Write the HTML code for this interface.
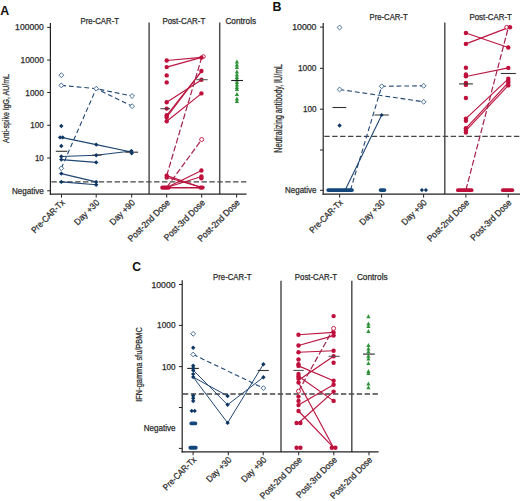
<!DOCTYPE html>
<html><head><meta charset="utf-8"><style>
html,body{margin:0;padding:0;background:#fff;}
svg{display:block;font-family:"Liberation Sans", sans-serif;}
</style></head><body>
<svg width="520" height="501" viewBox="0 0 520 501">
<rect width="520" height="501" fill="#fff"/>
<g>
<text x="0.2" y="14.6" font-size="12.4" text-anchor="start" fill="#111" font-weight="bold">A</text>
<text x="8.5" y="108.5" font-size="9.6" text-anchor="middle" fill="#2b2b2b" font-weight="normal" stroke="#2b2b2b" stroke-width="0.25" textLength="69" lengthAdjust="spacingAndGlyphs" transform="rotate(-90 8.5 108.5)">Anti-spike IgG, AU/mL</text>
<line x1="51.4" y1="181.9" x2="246.5" y2="181.9" stroke="#444444" stroke-width="1.3" stroke-dasharray="5.4 2.5" opacity="1"/>
<line x1="149.1" y1="22.5" x2="149.1" y2="194" stroke="#505050" stroke-width="1.5" opacity="1"/>
<line x1="219.7" y1="22.5" x2="219.7" y2="194" stroke="#505050" stroke-width="1.5" opacity="1"/>
<line x1="50.4" y1="23" x2="50.4" y2="194.7" stroke="#222222" stroke-width="1.2" opacity="1"/>
<line x1="49.8" y1="194.2" x2="246.5" y2="194.2" stroke="#222222" stroke-width="1.2" opacity="1"/>
<text x="43.8" y="30.4" font-size="8.6" text-anchor="end" fill="#2b2b2b" font-weight="normal" stroke="#2b2b2b" stroke-width="0.25" textLength="28.7" lengthAdjust="spacingAndGlyphs">100000</text>
<line x1="47.199999999999996" y1="27.4" x2="50.4" y2="27.4" stroke="#222222" stroke-width="1.0" opacity="1"/>
<text x="43.8" y="63.1" font-size="8.6" text-anchor="end" fill="#2b2b2b" font-weight="normal" stroke="#2b2b2b" stroke-width="0.25" textLength="23.3" lengthAdjust="spacingAndGlyphs">10000</text>
<line x1="47.199999999999996" y1="60.1" x2="50.4" y2="60.1" stroke="#222222" stroke-width="1.0" opacity="1"/>
<text x="43.8" y="95.5" font-size="8.6" text-anchor="end" fill="#2b2b2b" font-weight="normal" stroke="#2b2b2b" stroke-width="0.25" textLength="18.5" lengthAdjust="spacingAndGlyphs">1000</text>
<line x1="47.199999999999996" y1="92.5" x2="50.4" y2="92.5" stroke="#222222" stroke-width="1.0" opacity="1"/>
<text x="43.8" y="128.3" font-size="8.6" text-anchor="end" fill="#2b2b2b" font-weight="normal" stroke="#2b2b2b" stroke-width="0.25" textLength="13.6" lengthAdjust="spacingAndGlyphs">100</text>
<line x1="47.199999999999996" y1="125.3" x2="50.4" y2="125.3" stroke="#222222" stroke-width="1.0" opacity="1"/>
<text x="43.8" y="161.0" font-size="8.6" text-anchor="end" fill="#2b2b2b" font-weight="normal" stroke="#2b2b2b" stroke-width="0.25" textLength="8.9" lengthAdjust="spacingAndGlyphs">10</text>
<line x1="47.199999999999996" y1="158" x2="50.4" y2="158" stroke="#222222" stroke-width="1.0" opacity="1"/>
<text x="43.8" y="193.8" font-size="8.6" text-anchor="end" fill="#2b2b2b" font-weight="normal" stroke="#2b2b2b" stroke-width="0.25" textLength="31.8" lengthAdjust="spacingAndGlyphs">Negative</text>
<line x1="47.199999999999996" y1="190.8" x2="50.4" y2="190.8" stroke="#222222" stroke-width="1.0" opacity="1"/>
<text x="99.8" y="24.2" font-size="8.6" text-anchor="middle" fill="#2b2b2b" font-weight="normal" stroke="#2b2b2b" stroke-width="0.25" textLength="38.4" lengthAdjust="spacingAndGlyphs">Pre-CAR-T</text>
<text x="183.85" y="24.2" font-size="8.6" text-anchor="middle" fill="#2b2b2b" font-weight="normal" stroke="#2b2b2b" stroke-width="0.25" textLength="42.9" lengthAdjust="spacingAndGlyphs">Post-CAR-T</text>
<text x="240.75" y="24.2" font-size="8.6" text-anchor="middle" fill="#2b2b2b" font-weight="normal" stroke="#2b2b2b" stroke-width="0.25" textLength="30.7" lengthAdjust="spacingAndGlyphs">Controls</text>
<line x1="61.5" y1="194.2" x2="61.5" y2="197.6" stroke="#222222" stroke-width="1.0" opacity="1"/>
<text x="65.3" y="203.3" font-size="9.0" text-anchor="end" fill="#2b2b2b" font-weight="normal" stroke="#2b2b2b" stroke-width="0.25" textLength="43.0" lengthAdjust="spacingAndGlyphs" transform="rotate(-45 65.3 203.3)">Pre-CAR-Tx</text>
<line x1="96.2" y1="194.2" x2="96.2" y2="197.6" stroke="#222222" stroke-width="1.0" opacity="1"/>
<text x="100.0" y="203.3" font-size="9.0" text-anchor="end" fill="#2b2b2b" font-weight="normal" stroke="#2b2b2b" stroke-width="0.25" textLength="31.6" lengthAdjust="spacingAndGlyphs" transform="rotate(-45 100.0 203.3)">Day +30</text>
<line x1="131.7" y1="194.2" x2="131.7" y2="197.6" stroke="#222222" stroke-width="1.0" opacity="1"/>
<text x="135.5" y="203.3" font-size="9.0" text-anchor="end" fill="#2b2b2b" font-weight="normal" stroke="#2b2b2b" stroke-width="0.25" textLength="31.6" lengthAdjust="spacingAndGlyphs" transform="rotate(-45 135.5 203.3)">Day +90</text>
<line x1="166.7" y1="194.2" x2="166.7" y2="197.6" stroke="#222222" stroke-width="1.0" opacity="1"/>
<text x="170.5" y="203.3" font-size="9.0" text-anchor="end" fill="#2b2b2b" font-weight="normal" stroke="#2b2b2b" stroke-width="0.25" textLength="55.2" lengthAdjust="spacingAndGlyphs" transform="rotate(-45 170.5 203.3)">Post-2nd Dose</text>
<line x1="201.7" y1="194.2" x2="201.7" y2="197.6" stroke="#222222" stroke-width="1.0" opacity="1"/>
<text x="205.5" y="203.3" font-size="9.0" text-anchor="end" fill="#2b2b2b" font-weight="normal" stroke="#2b2b2b" stroke-width="0.25" textLength="53.6" lengthAdjust="spacingAndGlyphs" transform="rotate(-45 205.5 203.3)">Post-3rd Dose</text>
<line x1="236.6" y1="194.2" x2="236.6" y2="197.6" stroke="#222222" stroke-width="1.0" opacity="1"/>
<text x="240.4" y="203.3" font-size="9.0" text-anchor="end" fill="#2b2b2b" font-weight="normal" stroke="#2b2b2b" stroke-width="0.25" textLength="55.2" lengthAdjust="spacingAndGlyphs" transform="rotate(-45 240.4 203.3)">Post-2nd Dose</text>
<polyline points="61.3,85.4 96.2,88.7 132.1,96" fill="none" stroke="#1f4673" stroke-width="1.1" stroke-dasharray="4.8 2.9"/>
<polyline points="61.3,168.3 96.2,88.7 132.1,106.2" fill="none" stroke="#1f4673" stroke-width="1.1" stroke-dasharray="4.8 2.9"/>
<polyline points="61.3,137.4 96.2,144.6 131.5,152" fill="none" stroke="#1f4673" stroke-width="1.1"/>
<polyline points="61.3,156.5 96.2,155.2 131.5,151" fill="none" stroke="#1f4673" stroke-width="1.1"/>
<polyline points="61.3,159.6 96.2,162.4" fill="none" stroke="#1f4673" stroke-width="1.1"/>
<polyline points="61.3,173.6 96.2,181.9" fill="none" stroke="#1f4673" stroke-width="1.1"/>
<polyline points="61.3,181.9 96.2,184.8" fill="none" stroke="#1f4673" stroke-width="1.1"/>
<line x1="55.8" y1="151.3" x2="67.3" y2="151.3" stroke="#333" stroke-width="1.1" opacity="1"/>
<line x1="91.9" y1="155.1" x2="101.7" y2="155.1" stroke="#333" stroke-width="1.1" opacity="1"/>
<line x1="125.4" y1="152.2" x2="138.1" y2="152.2" stroke="#333" stroke-width="1.1" opacity="1"/>
<path d="M61.3,72.8L63.699999999999996,75.2L61.3,77.60000000000001L58.9,75.2Z" fill="#fff" stroke="#2f5d8c" stroke-width="0.9"/>
<path d="M61.3,83.0L63.699999999999996,85.4L61.3,87.80000000000001L58.9,85.4Z" fill="#fff" stroke="#2f5d8c" stroke-width="0.9"/>
<path d="M61.3,165.9L63.699999999999996,168.3L61.3,170.70000000000002L58.9,168.3Z" fill="#fff" stroke="#2f5d8c" stroke-width="0.9"/>
<path d="M96.2,86.3L98.60000000000001,88.7L96.2,91.10000000000001L93.8,88.7Z" fill="#fff" stroke="#2f5d8c" stroke-width="0.9"/>
<path d="M132.1,93.6L134.5,96L132.1,98.4L129.7,96Z" fill="#fff" stroke="#2f5d8c" stroke-width="0.9"/>
<path d="M132.1,103.8L134.5,106.2L132.1,108.60000000000001L129.7,106.2Z" fill="#fff" stroke="#2f5d8c" stroke-width="0.9"/>
<path d="M61.3,123.8L63.5,126L61.3,128.2L59.099999999999994,126Z" fill="#0f3763"/>
<path d="M60.1,135.20000000000002L62.300000000000004,137.4L60.1,139.6L57.9,137.4Z" fill="#0f3763"/>
<path d="M62.7,135.20000000000002L64.9,137.4L62.7,139.6L60.5,137.4Z" fill="#0f3763"/>
<path d="M61.3,143.8L63.5,146L61.3,148.2L59.099999999999994,146Z" fill="#0f3763"/>
<path d="M61.3,154.3L63.5,156.5L61.3,158.7L59.099999999999994,156.5Z" fill="#0f3763"/>
<path d="M61.3,157.4L63.5,159.6L61.3,161.79999999999998L59.099999999999994,159.6Z" fill="#0f3763"/>
<path d="M61.3,171.4L63.5,173.6L61.3,175.79999999999998L59.099999999999994,173.6Z" fill="#0f3763"/>
<path d="M61.3,179.70000000000002L63.5,181.9L61.3,184.1L59.099999999999994,181.9Z" fill="#0f3763"/>
<path d="M96.2,142.4L98.4,144.6L96.2,146.79999999999998L94.0,144.6Z" fill="#0f3763"/>
<path d="M96.2,153.0L98.4,155.2L96.2,157.39999999999998L94.0,155.2Z" fill="#0f3763"/>
<path d="M96.2,160.20000000000002L98.4,162.4L96.2,164.6L94.0,162.4Z" fill="#0f3763"/>
<path d="M96.2,179.70000000000002L98.4,181.9L96.2,184.1L94.0,181.9Z" fill="#0f3763"/>
<path d="M96.2,182.60000000000002L98.4,184.8L96.2,187.0L94.0,184.8Z" fill="#0f3763"/>
<path d="M131.5,148.8L133.7,151L131.5,153.2L129.3,151Z" fill="#0f3763"/>
<path d="M131.7,151.10000000000002L133.89999999999998,153.3L131.7,155.5L129.5,153.3Z" fill="#0f3763"/>
<line x1="166.7" y1="60.5" x2="201.7" y2="57.4" stroke="#bb1540" stroke-width="1.15" opacity="1"/>
<line x1="166.7" y1="67.1" x2="201.7" y2="57.4" stroke="#bb1540" stroke-width="1.15" opacity="1"/>
<line x1="166.7" y1="102.2" x2="201.7" y2="79.7" stroke="#bb1540" stroke-width="1.15" opacity="1"/>
<line x1="166.7" y1="115.3" x2="201.7" y2="71" stroke="#bb1540" stroke-width="1.15" opacity="1"/>
<line x1="166.7" y1="117.2" x2="201.7" y2="71" stroke="#bb1540" stroke-width="1.15" opacity="1"/>
<line x1="166.7" y1="121.3" x2="201.7" y2="93.4" stroke="#bb1540" stroke-width="1.15" opacity="1"/>
<line x1="166.7" y1="187.5" x2="201.7" y2="170.5" stroke="#bb1540" stroke-width="1.15" opacity="1"/>
<line x1="166.7" y1="187.5" x2="201.7" y2="176.5" stroke="#bb1540" stroke-width="1.15" opacity="1"/>
<line x1="166.7" y1="175.6" x2="201.7" y2="187.5" stroke="#bb1540" stroke-width="1.15" opacity="1"/>
<line x1="166.7" y1="177.3" x2="201.7" y2="187.5" stroke="#bb1540" stroke-width="1.15" opacity="1"/>
<line x1="166.7" y1="187.5" x2="201.7" y2="187.5" stroke="#bb1540" stroke-width="1.15" opacity="1"/>
<line x1="166.7" y1="188" x2="201.7" y2="188" stroke="#bb1540" stroke-width="1.15" opacity="1"/>
<line x1="166.7" y1="175.6" x2="201.7" y2="57.4" stroke="#a3204a" stroke-width="1.2" stroke-dasharray="6 2.4" opacity="1"/>
<line x1="166.7" y1="187.5" x2="201.7" y2="139.5" stroke="#a3204a" stroke-width="1.2" stroke-dasharray="6 2.4" opacity="1"/>
<line x1="162.3" y1="187.7" x2="168.5" y2="187.7" stroke="#bf0f3b" stroke-width="4.2" stroke-linecap="round"/>
<line x1="200.4" y1="187.6" x2="202.6" y2="187.6" stroke="#bf0f3b" stroke-width="4.2" stroke-linecap="round"/>
<circle cx="166.7" cy="60.5" r="2.2" fill="#bf0f3b"/>
<circle cx="166.7" cy="67.1" r="2.2" fill="#bf0f3b"/>
<circle cx="166.7" cy="75.4" r="2.2" fill="#bf0f3b"/>
<circle cx="166.7" cy="82.4" r="2.2" fill="#bf0f3b"/>
<circle cx="166.7" cy="102.2" r="2.2" fill="#bf0f3b"/>
<circle cx="166.7" cy="108.6" r="2.2" fill="#bf0f3b"/>
<circle cx="166.7" cy="115.3" r="2.2" fill="#bf0f3b"/>
<circle cx="166.7" cy="117.2" r="2.2" fill="#bf0f3b"/>
<circle cx="166.7" cy="121.3" r="2.2" fill="#bf0f3b"/>
<circle cx="166.7" cy="175.6" r="2.2" fill="#bf0f3b"/>
<circle cx="166.7" cy="177.6" r="2.2" fill="#bf0f3b"/>
<circle cx="203.4" cy="56.6" r="1.9" fill="#fff" stroke="#bf0f3b" stroke-width="0.9"/>
<circle cx="201.39999999999998" cy="57.6" r="2.2" fill="#bf0f3b"/>
<circle cx="201.39999999999998" cy="71" r="2.2" fill="#bf0f3b"/>
<circle cx="201.39999999999998" cy="79.7" r="2.2" fill="#bf0f3b"/>
<circle cx="201.39999999999998" cy="93.4" r="2.2" fill="#bf0f3b"/>
<circle cx="201.39999999999998" cy="170.5" r="2.2" fill="#bf0f3b"/>
<circle cx="201.39999999999998" cy="176.5" r="2.2" fill="#bf0f3b"/>
<circle cx="201.39999999999998" cy="178.2" r="2.2" fill="#bf0f3b"/>
<circle cx="201.7" cy="139.5" r="2.0" fill="#fff" stroke="#bf0f3b" stroke-width="0.9"/>
<line x1="160.4" y1="108.7" x2="170" y2="108.7" stroke="#444" stroke-width="1.1" opacity="1"/>
<line x1="196.3" y1="79.7" x2="207.7" y2="79.7" stroke="#555" stroke-width="1.1" opacity="1"/>
<path d="M236.9,59.4L239.0,63.39L234.8,63.39Z" fill="#2e9236"/>
<path d="M236.9,62.4L239.0,66.39L234.8,66.39Z" fill="#2e9236"/>
<path d="M236.9,64.9L239.0,68.89L234.8,68.89Z" fill="#2e9236"/>
<path d="M236.9,69.4L239.0,73.39L234.8,73.39Z" fill="#2e9236"/>
<path d="M236.9,72.4L239.0,76.39L234.8,76.39Z" fill="#2e9236"/>
<path d="M236.9,74.9L239.0,78.89L234.8,78.89Z" fill="#2e9236"/>
<path d="M236.9,77.4L239.0,81.39L234.8,81.39Z" fill="#2e9236"/>
<path d="M236.9,79.9L239.0,83.89L234.8,83.89Z" fill="#2e9236"/>
<path d="M236.9,82.4L239.0,86.39L234.8,86.39Z" fill="#2e9236"/>
<path d="M236.9,84.9L239.0,88.89L234.8,88.89Z" fill="#2e9236"/>
<path d="M236.9,86.9L239.0,90.89L234.8,90.89Z" fill="#2e9236"/>
<path d="M236.9,91.9L239.0,95.89L234.8,95.89Z" fill="#2e9236"/>
<path d="M236.9,96.4L239.0,100.39L234.8,100.39Z" fill="#2e9236"/>
<path d="M236.9,98.9L239.0,102.89L234.8,102.89Z" fill="#2e9236"/>
<line x1="231.2" y1="80.5" x2="243" y2="80.5" stroke="#222" stroke-width="1.1" opacity="1"/>
</g>
<g>
<text x="272.4" y="11.1" font-size="12.4" text-anchor="start" fill="#111" font-weight="bold">B</text>
<text x="282.0" y="108.3" font-size="10.2" text-anchor="middle" fill="#2b2b2b" font-weight="normal" stroke="#2b2b2b" stroke-width="0.25" textLength="88.7" lengthAdjust="spacingAndGlyphs" transform="rotate(-90 282.0 108.3)">Neutralizing antibody, IU/mL</text>
<line x1="324.3" y1="136.3" x2="520" y2="136.3" stroke="#444444" stroke-width="1.3" stroke-dasharray="5.4 2.5" opacity="1"/>
<line x1="444.8" y1="22.6" x2="444.8" y2="194" stroke="#505050" stroke-width="1.5" opacity="1"/>
<line x1="323.2" y1="23" x2="323.2" y2="194.8" stroke="#222222" stroke-width="1.2" opacity="1"/>
<line x1="322.6" y1="194.2" x2="520" y2="194.2" stroke="#222222" stroke-width="1.2" opacity="1"/>
<text x="316.5" y="30.1" font-size="8.6" text-anchor="end" fill="#2b2b2b" font-weight="normal" stroke="#2b2b2b" stroke-width="0.25" textLength="24.3" lengthAdjust="spacingAndGlyphs">10000</text>
<line x1="320.0" y1="27.1" x2="323.2" y2="27.1" stroke="#222222" stroke-width="1.0" opacity="1"/>
<text x="316.5" y="71.3" font-size="8.6" text-anchor="end" fill="#2b2b2b" font-weight="normal" stroke="#2b2b2b" stroke-width="0.25" textLength="18.5" lengthAdjust="spacingAndGlyphs">1000</text>
<line x1="320.0" y1="68.3" x2="323.2" y2="68.3" stroke="#222222" stroke-width="1.0" opacity="1"/>
<text x="316.5" y="112.2" font-size="8.6" text-anchor="end" fill="#2b2b2b" font-weight="normal" stroke="#2b2b2b" stroke-width="0.25" textLength="13.6" lengthAdjust="spacingAndGlyphs">100</text>
<line x1="320.0" y1="109.2" x2="323.2" y2="109.2" stroke="#222222" stroke-width="1.0" opacity="1"/>
<text x="316.5" y="193.3" font-size="8.6" text-anchor="end" fill="#2b2b2b" font-weight="normal" stroke="#2b2b2b" stroke-width="0.25" textLength="31.4" lengthAdjust="spacingAndGlyphs">Negative</text>
<line x1="320.0" y1="190.3" x2="323.2" y2="190.3" stroke="#222222" stroke-width="1.0" opacity="1"/>
<line x1="320" y1="150" x2="323.2" y2="150" stroke="#222222" stroke-width="1.0" opacity="1"/>
<text x="388.6" y="20.4" font-size="8.6" text-anchor="middle" fill="#2b2b2b" font-weight="normal" stroke="#2b2b2b" stroke-width="0.25" textLength="38.1" lengthAdjust="spacingAndGlyphs">Pre-CAR-T</text>
<text x="490.7" y="20.2" font-size="8.6" text-anchor="middle" fill="#2b2b2b" font-weight="normal" stroke="#2b2b2b" stroke-width="0.25" textLength="42.5" lengthAdjust="spacingAndGlyphs">Post-CAR-T</text>
<line x1="339.6" y1="194.2" x2="339.6" y2="197.6" stroke="#222222" stroke-width="1.0" opacity="1"/>
<text x="343.40000000000003" y="203.3" font-size="9.0" text-anchor="end" fill="#2b2b2b" font-weight="normal" stroke="#2b2b2b" stroke-width="0.25" textLength="43.0" lengthAdjust="spacingAndGlyphs" transform="rotate(-45 343.40000000000003 203.3)">Pre-CAR-Tx</text>
<line x1="381.6" y1="194.2" x2="381.6" y2="197.6" stroke="#222222" stroke-width="1.0" opacity="1"/>
<text x="385.40000000000003" y="203.3" font-size="9.0" text-anchor="end" fill="#2b2b2b" font-weight="normal" stroke="#2b2b2b" stroke-width="0.25" textLength="31.6" lengthAdjust="spacingAndGlyphs" transform="rotate(-45 385.40000000000003 203.3)">Day +30</text>
<line x1="423.6" y1="194.2" x2="423.6" y2="197.6" stroke="#222222" stroke-width="1.0" opacity="1"/>
<text x="427.40000000000003" y="203.3" font-size="9.0" text-anchor="end" fill="#2b2b2b" font-weight="normal" stroke="#2b2b2b" stroke-width="0.25" textLength="31.6" lengthAdjust="spacingAndGlyphs" transform="rotate(-45 427.40000000000003 203.3)">Day +90</text>
<line x1="465.9" y1="194.2" x2="465.9" y2="197.6" stroke="#222222" stroke-width="1.0" opacity="1"/>
<text x="469.7" y="203.3" font-size="9.0" text-anchor="end" fill="#2b2b2b" font-weight="normal" stroke="#2b2b2b" stroke-width="0.25" textLength="55.2" lengthAdjust="spacingAndGlyphs" transform="rotate(-45 469.7 203.3)">Post-2nd Dose</text>
<line x1="508.2" y1="194.2" x2="508.2" y2="197.6" stroke="#222222" stroke-width="1.0" opacity="1"/>
<text x="512.0" y="203.3" font-size="9.0" text-anchor="end" fill="#2b2b2b" font-weight="normal" stroke="#2b2b2b" stroke-width="0.25" textLength="53.6" lengthAdjust="spacingAndGlyphs" transform="rotate(-45 512.0 203.3)">Post-3rd Dose</text>
<polyline points="339.6,89.5 423.7,101.8" fill="none" stroke="#1f4673" stroke-width="1.1" stroke-dasharray="4.8 2.9"/>
<polyline points="350.5,190 381.7,86.3 423.7,85.8" fill="none" stroke="#1f4673" stroke-width="1.1" stroke-dasharray="4.8 2.9"/>
<polyline points="345.2,190 381.7,115" fill="none" stroke="#1f4673" stroke-width="1.1"/>
<line x1="332.5" y1="107.5" x2="346.3" y2="107.5" stroke="#333" stroke-width="1.1" opacity="1"/>
<line x1="374.5" y1="115" x2="388.8" y2="115" stroke="#444" stroke-width="1.1" opacity="1"/>
<path d="M339.6,25.1L342.0,27.5L339.6,29.9L337.20000000000005,27.5Z" fill="#fff" stroke="#2f5d8c" stroke-width="0.9"/>
<path d="M339.6,87.1L342.0,89.5L339.6,91.9L337.20000000000005,89.5Z" fill="#fff" stroke="#2f5d8c" stroke-width="0.9"/>
<path d="M381.7,83.89999999999999L384.09999999999997,86.3L381.7,88.7L379.3,86.3Z" fill="#fff" stroke="#2f5d8c" stroke-width="0.9"/>
<path d="M423.7,83.39999999999999L426.09999999999997,85.8L423.7,88.2L421.3,85.8Z" fill="#fff" stroke="#2f5d8c" stroke-width="0.9"/>
<path d="M423.7,99.39999999999999L426.09999999999997,101.8L423.7,104.2L421.3,101.8Z" fill="#fff" stroke="#2f5d8c" stroke-width="0.9"/>
<path d="M339.6,123.3L341.8,125.5L339.6,127.7L337.40000000000003,125.5Z" fill="#0f3763"/>
<path d="M381.7,113.0L383.7,115L381.7,117.0L379.7,115Z" fill="#0f3763"/>
<line x1="328.2" y1="190.1" x2="352.0" y2="190.1" stroke="#13477c" stroke-width="3.8" stroke-linecap="round"/>
<line x1="380.6" y1="190.1" x2="384.4" y2="190.1" stroke="#13477c" stroke-width="3.8" stroke-linecap="round"/>
<path d="M421.9,188.0L424.0,190.1L421.9,192.2L419.79999999999995,190.1Z" fill="#0f3763"/>
<path d="M425.9,188.0L428.0,190.1L425.9,192.2L423.79999999999995,190.1Z" fill="#0f3763"/>
<line x1="465.9" y1="33" x2="508.3" y2="47.5" stroke="#bb1540" stroke-width="1.15" opacity="1"/>
<line x1="465.9" y1="43.9" x2="508.3" y2="27.6" stroke="#bb1540" stroke-width="1.15" opacity="1"/>
<line x1="465.9" y1="76.5" x2="508.3" y2="67.9" stroke="#bb1540" stroke-width="1.15" opacity="1"/>
<line x1="465.9" y1="118.6" x2="508.3" y2="78.8" stroke="#bb1540" stroke-width="1.15" opacity="1"/>
<line x1="465.9" y1="128.3" x2="508.3" y2="82.6" stroke="#bb1540" stroke-width="1.15" opacity="1"/>
<line x1="465.9" y1="130.6" x2="508.3" y2="85.4" stroke="#bb1540" stroke-width="1.15" opacity="1"/>
<line x1="465.9" y1="190" x2="508.3" y2="27.6" stroke="#a3204a" stroke-width="1.2" stroke-dasharray="6 2.4" opacity="1"/>
<line x1="457.9" y1="190.2" x2="471.6" y2="190.2" stroke="#bf0f3b" stroke-width="3.8" stroke-linecap="round"/>
<line x1="502.8" y1="190.2" x2="512.3" y2="190.2" stroke="#bf0f3b" stroke-width="3.8" stroke-linecap="round"/>
<circle cx="465.9" cy="33" r="2.2" fill="#bf0f3b"/>
<circle cx="465.9" cy="43.9" r="2.2" fill="#bf0f3b"/>
<circle cx="465.9" cy="67.7" r="2.2" fill="#bf0f3b"/>
<circle cx="465.9" cy="74.5" r="2.2" fill="#bf0f3b"/>
<circle cx="465.9" cy="76.3" r="2.2" fill="#bf0f3b"/>
<circle cx="465.9" cy="82.9" r="2.2" fill="#bf0f3b"/>
<circle cx="465.9" cy="84.9" r="2.2" fill="#bf0f3b"/>
<circle cx="465.9" cy="98" r="2.2" fill="#bf0f3b"/>
<circle cx="465.9" cy="118.6" r="2.2" fill="#bf0f3b"/>
<circle cx="465.9" cy="120.8" r="2.2" fill="#bf0f3b"/>
<circle cx="465.9" cy="128.3" r="2.2" fill="#bf0f3b"/>
<circle cx="465.9" cy="130.6" r="2.2" fill="#bf0f3b"/>
<circle cx="465.9" cy="132.6" r="2.2" fill="#bf0f3b"/>
<circle cx="506.6" cy="27.3" r="1.9" fill="#fff" stroke="#bf0f3b" stroke-width="0.9"/>
<circle cx="508.3" cy="47.5" r="2.2" fill="#bf0f3b"/>
<circle cx="508.3" cy="67.9" r="2.2" fill="#bf0f3b"/>
<circle cx="508.3" cy="78.8" r="2.2" fill="#bf0f3b"/>
<circle cx="508.3" cy="81" r="2.2" fill="#bf0f3b"/>
<circle cx="508.3" cy="83" r="2.2" fill="#bf0f3b"/>
<circle cx="508.3" cy="85.4" r="2.2" fill="#bf0f3b"/>
<circle cx="510" cy="27.3" r="2.2" fill="#bf0f3b"/>
<line x1="459" y1="83.9" x2="472.9" y2="83.9" stroke="#333" stroke-width="1.1" opacity="1"/>
<line x1="500.9" y1="73.5" x2="515.8" y2="73.5" stroke="#333" stroke-width="1.1" opacity="1"/>
</g>
<g>
<text x="132.3" y="270.7" font-size="12.2" text-anchor="start" fill="#111" font-weight="bold">C</text>
<text x="142.3" y="364.5" font-size="9.4" text-anchor="middle" fill="#2b2b2b" font-weight="normal" stroke="#2b2b2b" stroke-width="0.25" textLength="74.5" lengthAdjust="spacingAndGlyphs" transform="rotate(-90 142.3 364.5)">IFN-gamma sfu/PBMC</text>
<line x1="182.9" y1="394" x2="379.5" y2="394" stroke="#444444" stroke-width="1.3" stroke-dasharray="5.4 2.5" opacity="1"/>
<line x1="281" y1="280.8" x2="281" y2="452" stroke="#505050" stroke-width="1.5" opacity="1"/>
<line x1="351.8" y1="280.8" x2="351.8" y2="452" stroke="#505050" stroke-width="1.5" opacity="1"/>
<line x1="182.2" y1="280.2" x2="182.2" y2="452.4" stroke="#222222" stroke-width="1.2" opacity="1"/>
<line x1="181.6" y1="451.9" x2="378.6" y2="451.9" stroke="#222222" stroke-width="1.2" opacity="1"/>
<text x="175.5" y="287.5" font-size="8.6" text-anchor="end" fill="#2b2b2b" font-weight="normal" stroke="#2b2b2b" stroke-width="0.25" textLength="24" lengthAdjust="spacingAndGlyphs">10000</text>
<line x1="179.0" y1="284.5" x2="182.2" y2="284.5" stroke="#222222" stroke-width="1.0" opacity="1"/>
<text x="175.5" y="328.4" font-size="8.6" text-anchor="end" fill="#2b2b2b" font-weight="normal" stroke="#2b2b2b" stroke-width="0.25" textLength="18.4" lengthAdjust="spacingAndGlyphs">1000</text>
<line x1="179.0" y1="325.4" x2="182.2" y2="325.4" stroke="#222222" stroke-width="1.0" opacity="1"/>
<text x="175.5" y="369.6" font-size="8.6" text-anchor="end" fill="#2b2b2b" font-weight="normal" stroke="#2b2b2b" stroke-width="0.25" textLength="13.6" lengthAdjust="spacingAndGlyphs">100</text>
<line x1="179.0" y1="366.6" x2="182.2" y2="366.6" stroke="#222222" stroke-width="1.0" opacity="1"/>
<line x1="179" y1="407.5" x2="182.2" y2="407.5" stroke="#222222" stroke-width="1.0" opacity="1"/>
<line x1="179" y1="448.4" x2="182.2" y2="448.4" stroke="#222222" stroke-width="1.0" opacity="1"/>
<text x="175.6" y="430.6" font-size="8.6" text-anchor="end" fill="#2b2b2b" font-weight="normal" stroke="#2b2b2b" stroke-width="0.25" textLength="31.9" lengthAdjust="spacingAndGlyphs">Negative</text>
<text x="232.3" y="280.0" font-size="8.6" text-anchor="middle" fill="#2b2b2b" font-weight="normal" stroke="#2b2b2b" stroke-width="0.25" textLength="38.4" lengthAdjust="spacingAndGlyphs">Pre-CAR-T</text>
<text x="315.95" y="280.0" font-size="8.6" text-anchor="middle" fill="#2b2b2b" font-weight="normal" stroke="#2b2b2b" stroke-width="0.25" textLength="42.3" lengthAdjust="spacingAndGlyphs">Post-CAR-T</text>
<text x="372.3" y="280.0" font-size="8.6" text-anchor="middle" fill="#2b2b2b" font-weight="normal" stroke="#2b2b2b" stroke-width="0.25" textLength="30.8" lengthAdjust="spacingAndGlyphs">Controls</text>
<line x1="193.1" y1="451.9" x2="193.1" y2="455.29999999999995" stroke="#222222" stroke-width="1.0" opacity="1"/>
<text x="196.9" y="460.5" font-size="9.0" text-anchor="end" fill="#2b2b2b" font-weight="normal" stroke="#2b2b2b" stroke-width="0.25" textLength="43.0" lengthAdjust="spacingAndGlyphs" transform="rotate(-45 196.9 460.5)">Pre-CAR-Tx</text>
<line x1="228.3" y1="451.9" x2="228.3" y2="455.29999999999995" stroke="#222222" stroke-width="1.0" opacity="1"/>
<text x="232.10000000000002" y="460.5" font-size="9.0" text-anchor="end" fill="#2b2b2b" font-weight="normal" stroke="#2b2b2b" stroke-width="0.25" textLength="31.6" lengthAdjust="spacingAndGlyphs" transform="rotate(-45 232.10000000000002 460.5)">Day +30</text>
<line x1="263.2" y1="451.9" x2="263.2" y2="455.29999999999995" stroke="#222222" stroke-width="1.0" opacity="1"/>
<text x="267.0" y="460.5" font-size="9.0" text-anchor="end" fill="#2b2b2b" font-weight="normal" stroke="#2b2b2b" stroke-width="0.25" textLength="31.6" lengthAdjust="spacingAndGlyphs" transform="rotate(-45 267.0 460.5)">Day +90</text>
<line x1="298.7" y1="451.9" x2="298.7" y2="455.29999999999995" stroke="#222222" stroke-width="1.0" opacity="1"/>
<text x="302.5" y="460.5" font-size="9.0" text-anchor="end" fill="#2b2b2b" font-weight="normal" stroke="#2b2b2b" stroke-width="0.25" textLength="55.2" lengthAdjust="spacingAndGlyphs" transform="rotate(-45 302.5 460.5)">Post-2nd Dose</text>
<line x1="333.8" y1="451.9" x2="333.8" y2="455.29999999999995" stroke="#222222" stroke-width="1.0" opacity="1"/>
<text x="337.6" y="460.5" font-size="9.0" text-anchor="end" fill="#2b2b2b" font-weight="normal" stroke="#2b2b2b" stroke-width="0.25" textLength="53.6" lengthAdjust="spacingAndGlyphs" transform="rotate(-45 337.6 460.5)">Post-3rd Dose</text>
<line x1="369" y1="451.9" x2="369" y2="455.29999999999995" stroke="#222222" stroke-width="1.0" opacity="1"/>
<text x="372.8" y="460.5" font-size="9.0" text-anchor="end" fill="#2b2b2b" font-weight="normal" stroke="#2b2b2b" stroke-width="0.25" textLength="55.2" lengthAdjust="spacingAndGlyphs" transform="rotate(-45 372.8 460.5)">Post-2nd Dose</text>
<polyline points="193.2,354.5 263.4,388.1" fill="none" stroke="#1f4673" stroke-width="1.1" stroke-dasharray="4.8 2.9"/>
<polyline points="193.2,370.2 227.6,404.8 263.4,377.2" fill="none" stroke="#1f4673" stroke-width="1.0"/>
<polyline points="193.2,377.1 227.6,396" fill="none" stroke="#1f4673" stroke-width="1.0"/>
<polyline points="193.2,377.1 227.6,422.9 263.4,364.2" fill="none" stroke="#1f4673" stroke-width="1.0"/>
<line x1="187.2" y1="368.4" x2="198.9" y2="368.4" stroke="#222" stroke-width="1.1" opacity="1"/>
<line x1="257.7" y1="370.5" x2="268.8" y2="370.5" stroke="#333" stroke-width="1.1" opacity="1"/>
<path d="M193.2,331.40000000000003L195.6,333.8L193.2,336.2L190.79999999999998,333.8Z" fill="#fff" stroke="#2f5d8c" stroke-width="0.9"/>
<path d="M193.2,352.1L195.6,354.5L193.2,356.9L190.79999999999998,354.5Z" fill="#fff" stroke="#2f5d8c" stroke-width="0.9"/>
<path d="M263.4,385.70000000000005L265.79999999999995,388.1L263.4,390.5L261.0,388.1Z" fill="#fff" stroke="#2f5d8c" stroke-width="0.9"/>
<path d="M193.2,345.6L195.39999999999998,347.8L193.2,350.0L191.0,347.8Z" fill="#0f3763"/>
<path d="M193.2,363.5L195.39999999999998,365.7L193.2,367.9L191.0,365.7Z" fill="#0f3763"/>
<path d="M193.2,366.1L195.39999999999998,368.3L193.2,370.5L191.0,368.3Z" fill="#0f3763"/>
<path d="M193.2,368.0L195.39999999999998,370.2L193.2,372.4L191.0,370.2Z" fill="#0f3763"/>
<path d="M193.2,371.90000000000003L195.39999999999998,374.1L193.2,376.3L191.0,374.1Z" fill="#0f3763"/>
<path d="M193.2,374.90000000000003L195.39999999999998,377.1L193.2,379.3L191.0,377.1Z" fill="#0f3763"/>
<path d="M193.2,393.5L195.39999999999998,395.7L193.2,397.9L191.0,395.7Z" fill="#0f3763"/>
<path d="M193.2,396.1L195.39999999999998,398.3L193.2,400.5L191.0,398.3Z" fill="#0f3763"/>
<path d="M193.2,398.8L195.39999999999998,401L193.2,403.2L191.0,401Z" fill="#0f3763"/>
<path d="M191.7,408.7L193.89999999999998,410.9L191.7,413.09999999999997L189.5,410.9Z" fill="#0f3763"/>
<path d="M194.7,408.7L196.89999999999998,410.9L194.7,413.09999999999997L192.5,410.9Z" fill="#0f3763"/>
<path d="M227.6,393.8L229.79999999999998,396L227.6,398.2L225.4,396Z" fill="#0f3763"/>
<path d="M227.6,402.6L229.79999999999998,404.8L227.6,407.0L225.4,404.8Z" fill="#0f3763"/>
<path d="M227.6,420.7L229.79999999999998,422.9L227.6,425.09999999999997L225.4,422.9Z" fill="#0f3763"/>
<path d="M263.4,362.0L265.59999999999997,364.2L263.4,366.4L261.2,364.2Z" fill="#0f3763"/>
<path d="M263.4,375.0L265.59999999999997,377.2L263.4,379.4L261.2,377.2Z" fill="#0f3763"/>
<line x1="191.3" y1="423.4" x2="195.3" y2="423.4" stroke="#13477c" stroke-width="3.8" stroke-linecap="round"/>
<line x1="190.4" y1="447.7" x2="195.7" y2="447.7" stroke="#13477c" stroke-width="4.0" stroke-linecap="round"/>
<line x1="298.5" y1="334.8" x2="333.6" y2="332.4" stroke="#bb1540" stroke-width="1.15" opacity="1"/>
<line x1="298.5" y1="345.5" x2="333.6" y2="335.6" stroke="#bb1540" stroke-width="1.15" opacity="1"/>
<line x1="298.5" y1="352.3" x2="333.6" y2="350.7" stroke="#bb1540" stroke-width="1.15" opacity="1"/>
<line x1="298.5" y1="365.9" x2="333.6" y2="380.8" stroke="#bb1540" stroke-width="1.15" opacity="1"/>
<line x1="298.5" y1="380.3" x2="333.6" y2="356.3" stroke="#bb1540" stroke-width="1.15" opacity="1"/>
<line x1="298.5" y1="376.3" x2="333.6" y2="400.9" stroke="#bb1540" stroke-width="1.15" opacity="1"/>
<line x1="298.5" y1="382.6" x2="333.6" y2="447.7" stroke="#bb1540" stroke-width="1.15" opacity="1"/>
<line x1="298.5" y1="405.1" x2="333.6" y2="384.7" stroke="#bb1540" stroke-width="1.15" opacity="1"/>
<line x1="298.5" y1="411" x2="333.6" y2="447.7" stroke="#bb1540" stroke-width="1.15" opacity="1"/>
<line x1="298.5" y1="423" x2="333.6" y2="391.6" stroke="#bb1540" stroke-width="1.15" opacity="1"/>
<line x1="298.5" y1="391.2" x2="333.6" y2="328.4" stroke="#a3204a" stroke-width="1.2" stroke-dasharray="6 2.4" opacity="1"/>
<circle cx="298.5" cy="334.8" r="2.2" fill="#bf0f3b"/>
<circle cx="298.5" cy="345.5" r="2.2" fill="#bf0f3b"/>
<circle cx="298.5" cy="352.3" r="2.2" fill="#bf0f3b"/>
<circle cx="298.5" cy="359.5" r="2.2" fill="#bf0f3b"/>
<circle cx="298.5" cy="364.3" r="2.2" fill="#bf0f3b"/>
<circle cx="298.5" cy="365.9" r="2.2" fill="#bf0f3b"/>
<circle cx="298.5" cy="373.9" r="2.2" fill="#bf0f3b"/>
<circle cx="298.5" cy="376.3" r="2.2" fill="#bf0f3b"/>
<circle cx="298.5" cy="378.7" r="2.2" fill="#bf0f3b"/>
<circle cx="298.5" cy="382.6" r="2.2" fill="#bf0f3b"/>
<circle cx="298.5" cy="396.6" r="2.2" fill="#bf0f3b"/>
<circle cx="298.5" cy="400.9" r="2.2" fill="#bf0f3b"/>
<circle cx="298.5" cy="405.1" r="2.2" fill="#bf0f3b"/>
<circle cx="298.5" cy="411" r="2.2" fill="#bf0f3b"/>
<circle cx="296.6" cy="423" r="2.2" fill="#bf0f3b"/>
<circle cx="300.4" cy="423" r="2.2" fill="#bf0f3b"/>
<circle cx="296.6" cy="447.7" r="2.2" fill="#bf0f3b"/>
<circle cx="300.4" cy="447.7" r="2.2" fill="#bf0f3b"/>
<circle cx="333.6" cy="316.1" r="2.2" fill="#bf0f3b"/>
<circle cx="333.6" cy="332.4" r="2.2" fill="#bf0f3b"/>
<circle cx="333.6" cy="335.6" r="2.2" fill="#bf0f3b"/>
<circle cx="333.6" cy="350.7" r="2.2" fill="#bf0f3b"/>
<circle cx="333.6" cy="356.3" r="2.2" fill="#bf0f3b"/>
<circle cx="333.6" cy="362.7" r="2.2" fill="#bf0f3b"/>
<circle cx="333.6" cy="380.8" r="2.2" fill="#bf0f3b"/>
<circle cx="333.6" cy="384.7" r="2.2" fill="#bf0f3b"/>
<circle cx="333.6" cy="391.6" r="2.2" fill="#bf0f3b"/>
<circle cx="333.6" cy="400.9" r="2.2" fill="#bf0f3b"/>
<circle cx="331.8" cy="447.7" r="2.2" fill="#bf0f3b"/>
<circle cx="335.4" cy="447.7" r="2.2" fill="#bf0f3b"/>
<circle cx="333.6" cy="328.4" r="2.0" fill="#fff" stroke="#bf0f3b" stroke-width="0.9"/>
<circle cx="298.5" cy="391.2" r="2.0" fill="#fff" stroke="#bf0f3b" stroke-width="0.9"/>
<line x1="293.4" y1="370.4" x2="303.7" y2="370.4" stroke="#555" stroke-width="1.1" opacity="1"/>
<line x1="328.5" y1="356.3" x2="339.7" y2="356.3" stroke="#555" stroke-width="1.1" opacity="1"/>
<path d="M368.4,314.2L370.5,318.19L366.29999999999995,318.19Z" fill="#2e9236"/>
<path d="M368.4,321.4L370.5,325.39L366.29999999999995,325.39Z" fill="#2e9236"/>
<path d="M368.4,324.09999999999997L370.5,328.09L366.29999999999995,328.09Z" fill="#2e9236"/>
<path d="M368.4,329.09999999999997L370.5,333.09L366.29999999999995,333.09Z" fill="#2e9236"/>
<path d="M368.4,343.0L370.5,346.99L366.29999999999995,346.99Z" fill="#2e9236"/>
<path d="M368.4,346.59999999999997L370.5,350.59L366.29999999999995,350.59Z" fill="#2e9236"/>
<path d="M368.4,349.29999999999995L370.5,353.28999999999996L366.29999999999995,353.28999999999996Z" fill="#2e9236"/>
<path d="M368.4,353.79999999999995L370.5,357.78999999999996L366.29999999999995,357.78999999999996Z" fill="#2e9236"/>
<path d="M368.4,356.5L370.5,360.49L366.29999999999995,360.49Z" fill="#2e9236"/>
<path d="M368.4,361.0L370.5,364.99L366.29999999999995,364.99Z" fill="#2e9236"/>
<path d="M368.4,369.09999999999997L370.5,373.09L366.29999999999995,373.09Z" fill="#2e9236"/>
<path d="M368.4,370.9L370.5,374.89L366.29999999999995,374.89Z" fill="#2e9236"/>
<path d="M368.4,381.59999999999997L370.5,385.59L366.29999999999995,385.59Z" fill="#2e9236"/>
<path d="M368.4,385.2L370.5,389.19L366.29999999999995,389.19Z" fill="#2e9236"/>
<line x1="363" y1="354.1" x2="374.7" y2="354.1" stroke="#222" stroke-width="1.1" opacity="1"/>
</g>
</svg>
</body></html>
